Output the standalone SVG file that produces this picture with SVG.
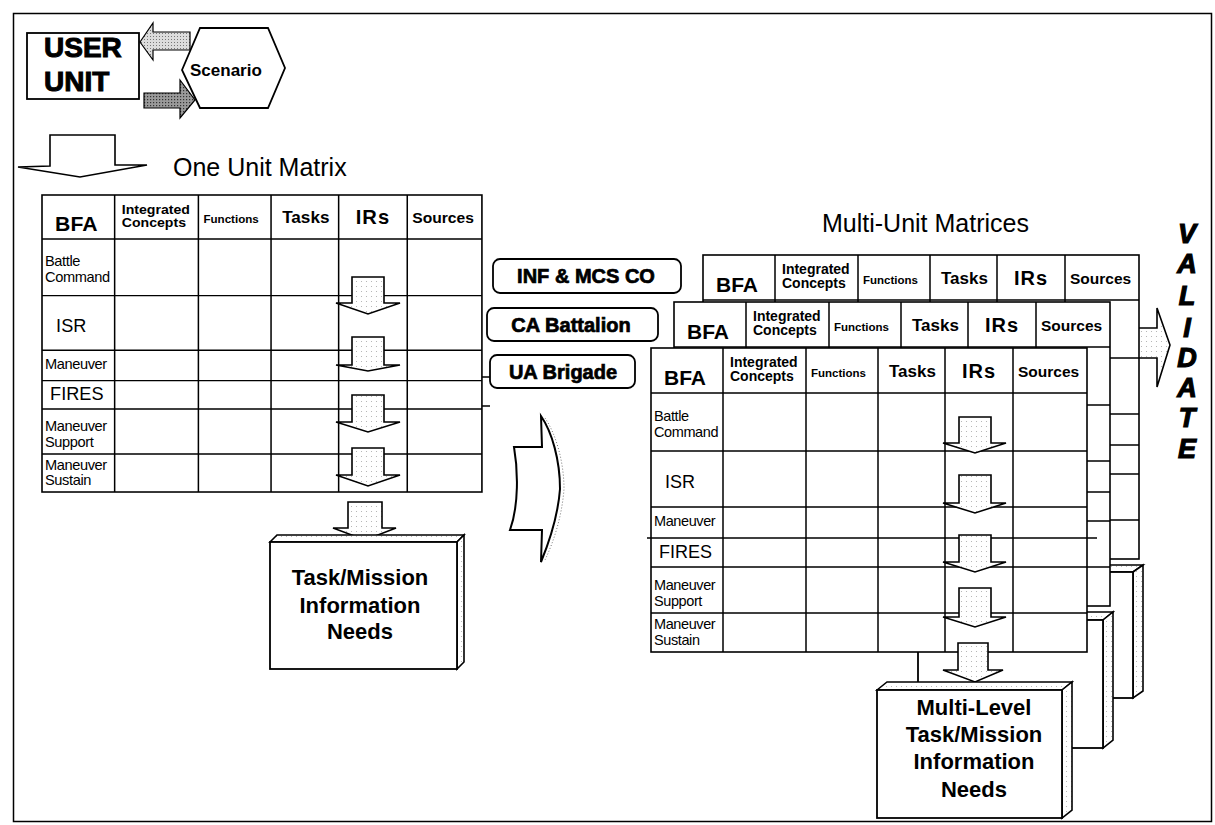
<svg xmlns="http://www.w3.org/2000/svg" width="1215" height="825" viewBox="0 0 1215 825">
<style>
 text{font-family:"Liberation Sans",Arial,sans-serif;fill:#000}
 .b{font-weight:bold}
 .ln{stroke:#000;stroke-width:1.5;fill:none}
 .cell{fill:#fff;stroke:#000;stroke-width:1.6}
 .arr{fill:url(#dots);stroke:#000;stroke-width:1.6}
 .face{fill:#fff;stroke:#000;stroke-width:1.8}
 .side{fill:url(#dots);stroke:#000;stroke-width:1.6}
 .lbl{fill:#fff;stroke:#000;stroke-width:1.8}
 .rl{font-size:14.5px;letter-spacing:-0.4px}
 .big{font-size:18px}
 .hd{font-weight:bold}
 .bx{font-size:22px;font-weight:bold;text-anchor:middle}
 .unit{font-size:20px;font-weight:bold;text-anchor:middle;stroke:#000;stroke-width:0.7px}
 .heavy{stroke:#000;stroke-width:1px}
 .val{font-size:27px;font-weight:bold;font-style:italic;text-anchor:middle;stroke:#000;stroke-width:1.2px}
 .title{font-size:25px}
</style>
<defs>
 <pattern id="dots" width="5" height="5" patternUnits="userSpaceOnUse"><rect width="5" height="5" fill="#fff"/><circle cx="1.5" cy="1.5" r="0.55" fill="#aaa"/></pattern>
 <pattern id="lgrey" width="3" height="3" patternUnits="userSpaceOnUse"><rect width="3" height="3" fill="#dcdcdc"/><rect width="1" height="1" fill="#777"/></pattern>
 <pattern id="dgrey" width="3" height="3" patternUnits="userSpaceOnUse"><rect width="3" height="3" fill="#9a9a9a"/><rect width="1.2" height="1.2" fill="#333"/></pattern>
 <g id="mtx">
  <rect class="cell" x="0" y="0" width="436" height="304"/>
  <path class="ln" d="M72 0V304M155 0V304M227 0V304M294 0V304M362 0V304M0 45H436M0 103H436M0 159H436M0 190H436M0 219H436M0 265H436"/>
  <text class="hd" x="13" y="37" font-size="21">BFA</text>
  <text class="hd" x="79" y="19" font-size="14">Integrated</text>
  <text class="hd" x="79" y="33" font-size="14">Concepts</text>
  <text class="hd" x="160" y="29" font-size="11.5">Functions</text>
  <text class="hd" x="238" y="29" font-size="17">Tasks</text>
  <text class="hd" x="328" y="30" font-size="20" text-anchor="middle" letter-spacing="1">IRs</text>
  <text class="hd" x="367" y="29" font-size="15.5">Sources</text>
  <text class="rl" x="3" y="73">Battle</text>
  <text class="rl" x="3" y="89">Command</text>
  <text class="big" x="14" y="140">ISR</text>
  <text class="rl" x="3" y="178">Maneuver</text>
  <text class="big" x="8" y="210">FIRES</text>
  <text class="rl" x="3" y="242">Maneuver</text>
  <text class="rl" x="3" y="258">Support</text>
  <text class="rl" x="3" y="281">Maneuver</text>
  <text class="rl" x="3" y="297">Sustain</text>
 </g>
</defs>

<rect x="13.5" y="13.5" width="1198" height="808" fill="#fff" stroke="#000" stroke-width="1.5"/>

<g id="user-unit">
 <rect x="27" y="33" width="112" height="66" fill="#fff" stroke="#000" stroke-width="1.8"/>
 <text class="b heavy" x="44" y="57" font-size="28">USER</text>
 <text class="b heavy" x="44" y="91" font-size="28">UNIT</text>
</g>

<g id="scenario">
 <polygon points="182,70 200,28 268,28 285,68 268,108 200,108" fill="#fff" stroke="#000" stroke-width="1.8"/>
 <text class="b" x="190" y="76" font-size="17">Scenario</text>
</g>

<g id="connectors">
 <polygon points="140,42 153,23 153,32 190,32 190,50 153,50 153,60" fill="url(#lgrey)" stroke="#000" stroke-width="1.2"/>
 <polygon points="144,93 180,93 180,80 195,100 180,118 180,108 144,108" fill="url(#dgrey)" stroke="#000" stroke-width="1.2"/>
 <polygon points="50,135 115,135 115,165 147,165 80,177 18,167 50,166" fill="#fff" stroke="#000" stroke-width="1.6"/>
 <path d="M514,447 L542,447 L541,416 C552,432 560,460 560,489 C558,516 550,540 541,562 L542,530 L510,530 C519,505 518,470 514,447 Z" fill="#fff" stroke="#000" stroke-width="2"/>
 <path d="M545,418 C556,434 564,462 564,489 C562,516 554,541 545,560" fill="none" stroke="#777" stroke-width="1" stroke-dasharray="1 2"/>
 <polygon class="arr" points="1127,328 1157,328 1157,308 1170,345 1157,387 1157,358 1127,358"/>
</g>

<text id="one-unit-title" class="title" x="173" y="176">One Unit Matrix</text>

<g id="one-unit-matrix">
 <use href="#mtx" transform="translate(42,195) scale(1.009,0.977)"/>
 <path class="ln" d="M482 377H490M482 406H490"/>
 <polygon class="arr" points="352,277 384,277 384,303 400,303 368,314 336,303 352,303"/>
 <polygon class="arr" points="352,337 384,337 384,365 400,365 368,371 336,365 352,365"/>
 <polygon class="arr" points="352,395 384,395 384,422 400,422 368,432 336,422 352,422"/>
 <polygon class="arr" points="352,448 384,448 384,475 400,475 368,486 336,475 352,475"/>
</g>

<g id="task-mission">
 <polygon class="arr" points="348,502 382,502 382,528 396,528 365,540 333,528 348,528"/>
 <polygon class="side" points="270,542 277,535 464,535 457,542"/>
 <polygon class="side" points="457,542 464,535 464,662 457,669"/>
 <rect class="face" x="270" y="542" width="187" height="127"/>
 <text class="bx" x="360" y="585" font-size="23">Task/Mission</text>
 <text class="bx" x="360" y="613" font-size="23">Information</text>
 <text class="bx" x="360" y="639" font-size="23">Needs</text>
</g>

<g id="label-inf">
 <rect class="lbl" x="493" y="259" width="188" height="34" rx="7"/>
 <text class="unit" x="586" y="283">INF &amp; MCS CO</text>
</g>
<g id="label-ca">
 <rect class="lbl" x="487" y="308" width="171" height="33" rx="7"/>
 <text class="unit" x="571" y="332">CA Battalion</text>
</g>
<g id="label-ua">
 <rect class="lbl" x="490" y="355" width="145" height="33" rx="7"/>
 <text class="unit" x="563" y="379">UA Brigade</text>
</g>

<text id="multi-unit-title" class="title" x="822" y="232">Multi-Unit Matrices</text>

<g id="matrix-inf">
 <use href="#mtx" transform="translate(703,255)"/>
</g>
<g id="box-back">
 <polygon class="side" points="948,572 958,565 1143,565 1133,572"/>
 <polygon class="side" points="1133,572 1143,565 1143,691 1133,698"/>
 <rect class="face" x="948" y="572" width="185" height="126"/>
</g>
<g id="matrix-ca">
 <use href="#mtx" transform="translate(674,302)"/>
</g>
<g id="box-middle">
 <polygon class="side" points="918,620 928,612 1113,612 1103,620"/>
 <polygon class="side" points="1103,620 1113,612 1113,740 1103,748"/>
 <rect class="face" x="918" y="620" width="185" height="128"/>
</g>
<g id="matrix-ua">
 <use href="#mtx" transform="translate(651,348)"/>
 <path class="ln" d="M647 538H651M1087 538H1097"/>
 <polygon class="arr" points="959,417 991,417 991,443 1006,443 975,453 943,443 959,443"/>
 <polygon class="arr" points="959,475 991,475 991,503 1006,503 975,513 943,503 959,503"/>
 <polygon class="arr" points="959,535 991,535 991,562 1006,562 975,572 943,562 959,562"/>
 <polygon class="arr" points="959,588 991,588 991,617 1006,617 975,627 943,617 959,617"/>
</g>

<g id="multi-level">
 <polygon class="arr" points="958,643 988,643 988,670 1003,670 975,682 943,670 958,670"/>
 <polygon class="side" points="877,690 887,682 1072,682 1062,690"/>
 <polygon class="side" points="1062,690 1072,682 1072,810 1062,818"/>
 <rect class="face" x="877" y="690" width="185" height="128"/>
 <text class="bx" x="974" y="715">Multi-Level</text>
 <text class="bx" x="974" y="742">Task/Mission</text>
 <text class="bx" x="974" y="769">Information</text>
 <text class="bx" x="974" y="797">Needs</text>
</g>

<g id="validate">
 <text class="val" x="1187" y="243">V</text>
 <text class="val" x="1187" y="273">A</text>
 <text class="val" x="1187" y="305">L</text>
 <text class="val" x="1187" y="337">I</text>
 <text class="val" x="1187" y="367">D</text>
 <text class="val" x="1187" y="397">A</text>
 <text class="val" x="1187" y="427">T</text>
 <text class="val" x="1187" y="458">E</text>
</g>
</svg>
